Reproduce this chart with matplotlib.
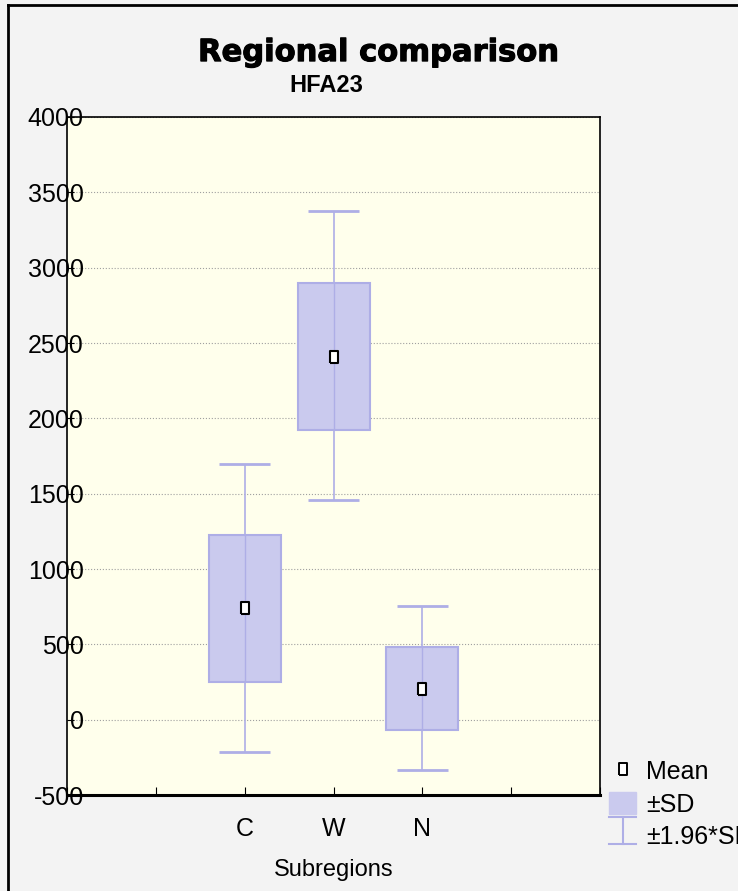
import matplotlib
matplotlib.use("Agg")
import matplotlib.pyplot as plt
import matplotlib.patheffects as pe
from matplotlib.patches import Rectangle, Patch
from matplotlib.lines import Line2D
from matplotlib.legend_handler import HandlerBase

# values
regions = ["C", "W", "N"]
means = [738, 2410, 207]
sd_lo = [250, 1923, -69]
sd_hi = [1226, 2898, 482]
ci_lo = [-215, 1458, -334]
ci_hi = [1697, 3376, 754]

box_fill = "#cacaee"
box_edge = "#aeaee6"
font = ["Liberation Sans", "DejaVu Sans"]
plt.rcParams["font.family"] = font

fig = plt.figure(figsize=(7.38, 8.91), dpi=100, facecolor="#f3f3f3")
ax = fig.add_axes([0.0908, 0.1077, 0.7225, 0.761])
ax.set_facecolor("#ffffec")

pos = list(range(len(regions)))
box_w = 0.81
cap_w = 0.57

for i in pos:
    ax.vlines(i, ci_lo[i], ci_hi[i], color=box_edge, lw=1.2, zorder=2)
    ax.hlines([ci_lo[i], ci_hi[i]], i - cap_w / 2, i + cap_w / 2, color=box_edge, lw=2, zorder=2)
    ax.add_patch(Rectangle((i - box_w / 2, sd_lo[i]), box_w, sd_hi[i] - sd_lo[i],
                           facecolor=box_fill, edgecolor=box_edge, lw=1.5, zorder=3))
    ax.vlines(i, sd_lo[i], sd_hi[i], color=box_edge, lw=1.0, zorder=4)

mean_marker = [(-0.35, -0.5), (0.35, -0.5), (0.35, 0.5), (-0.35, 0.5), (-0.35, -0.5)]
ax.plot(pos, means, ls="none", marker=mean_marker, ms=8, mfc="white", mec="black", mew=1.5, zorder=5)

ax.set_xlim(-2, 4)
ax.set_ylim(-500, 4000)
ax.set_yticks(range(-500, 4001, 500))
ax.set_yticklabels([str(v) for v in range(-500, 4001, 500)], fontsize=18)
ax.set_xticks(range(-2, 5))
ax.set_xticklabels(["", ""] + regions + ["", ""], fontsize=18)
ax.tick_params(axis="y", direction="in", length=5, pad=-12, colors="black")
ax.tick_params(axis="x", direction="in", length=6, pad=16)
ax.grid(axis="y", ls=":", color="#a0a0a0", lw=0.8)
ax.set_axisbelow(True)
for s in ["left", "right", "top"]:
    ax.spines[s].set_linewidth(1.2)
ax.spines["bottom"].set_linewidth(2.2)
ax.set_xlabel("Subregions", fontsize=17, labelpad=13)

fig.text(0.512, 0.941, "Regional comparison", ha="center", va="center",
         fontsize=22, fontweight="heavy", family=["DejaVu Sans"],
         path_effects=[pe.withStroke(linewidth=0.8, foreground="black")])
fig.text(0.442, 0.9045, "HFA23", ha="center", va="center", fontsize=17, fontweight="bold")

# figure frame (left and top edges)
fig.add_artist(Line2D([0.011, 0.011], [0, 0.9945], color="black", lw=2, transform=fig.transFigure))
fig.add_artist(Line2D([0.011, 1], [0.9945, 0.9945], color="black", lw=2, transform=fig.transFigure))


class WhiskerHandler(HandlerBase):
    def create_artists(self, legend, orig, xd, yd, w, h, fs, trans):
        cx = xd + w / 2
        lo, hi = yd - 0.1 * h, yd + 1.1 * h
        lines = [
            Line2D([cx, cx], [lo, hi]),
            Line2D([xd, xd + w], [lo, lo]),
            Line2D([xd, xd + w], [hi, hi]),
        ]
        for ln in lines:
            ln.set_color(box_edge)
            ln.set_linewidth(1.5)
            ln.set_transform(trans)
        return lines


h_mean = Line2D([], [], ls="none", marker=mean_marker, ms=8, mfc="white", mec="black", mew=1.4)
h_sd = Patch(facecolor=box_fill, edgecolor=box_fill)
h_ci = object()
fig.legend([h_mean, h_sd, h_ci], ["Mean", "±SD", "±1.96*SD"],
           handler_map={object: WhiskerHandler()},
           loc="upper left", bbox_to_anchor=(0.825, 0.148), frameon=False,
           fontsize=18, handlelength=1.1, handleheight=1.0, handletextpad=0.4,
           labelspacing=0.32, borderaxespad=0, borderpad=0)

fig.savefig("out.png", dpi=100, facecolor=fig.get_facecolor())
